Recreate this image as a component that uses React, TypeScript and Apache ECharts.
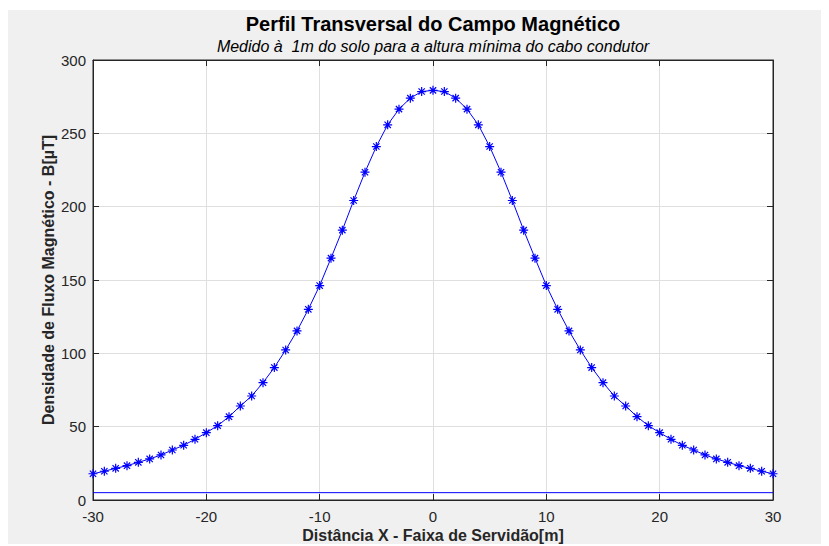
import React, { useEffect, useRef } from "react";
import * as echarts from "echarts";

const titleText = "Perfil Transversal do Campo Magnético";
const subtitleText = "Medido à  1m do solo para a altura mínima do cabo condutor";
const xAxisName = "Distância X - Faixa de Servidão[m]";
const yAxisName = "Densidade de Fluxo Magnético - B[µT]";

const distances = [
  -30, -29, -28, -27, -26, -25, -24, -23, -22, -21, -20, -19, -18, -17, -16, -15,
  -14, -13, -12, -11, -10, -9, -8, -7, -6, -5, -4, -3, -2, -1, 0, 1, 2, 3, 4, 5,
  6, 7, 8, 9, 10, 11, 12, 13, 14, 15, 16, 17, 18, 19, 20, 21, 22, 23, 24, 25, 26,
  27, 28, 29, 30,
];

const fluxValues = [
  17.9, 19.6, 21.6, 23.4, 25.7, 28.0, 30.7, 34.1, 37.3, 41.4, 45.9, 50.7, 56.8,
  64.1, 70.9, 80.0, 90.3, 102.3, 115.3, 130.0, 146.2, 164.9, 184.0, 204.2, 223.5,
  241.0, 255.8, 266.5, 274.0, 278.5, 279.3, 278.5, 274.0, 266.5, 255.8, 241.0,
  223.5, 204.2, 184.0, 164.9, 146.2, 130.0, 115.3, 102.3, 90.3, 80.0, 70.9, 64.1,
  56.8, 50.7, 45.9, 41.4, 37.3, 34.1, 30.7, 28.0, 25.7, 23.4, 21.6, 19.6, 17.9,
];

const limitLineX = [-30, 30];
const limitLineY = [5, 5];

const FONT = "'Liberation Sans', Arial, Helvetica, sans-serif";
const AXIS_COLOR = "#262626";
const BLUE = "#0000ff";

export default function App() {
  const ref = useRef<HTMLDivElement>(null);

  useEffect(() => {
    if (!ref.current) return;
    const chart = echarts.init(ref.current, undefined, { renderer: "svg" });
    const gridLeft = 85;
    const gridRight = 56;
    const plotCenterX = gridLeft + (821 - gridLeft - gridRight) / 2;

    const hiddenAxisCommon = {
      axisLabel: { show: false },
      axisTick: { show: true, inside: true, length: 6, lineStyle: { color: AXIS_COLOR } },
      splitLine: { show: false },
      axisLine: { show: true, onZero: false, lineStyle: { color: AXIS_COLOR, width: 1 } },
    };

    chart.setOption({
      animation: false,
      backgroundColor: "#f0f0f0",
      textStyle: { fontFamily: FONT },
      graphic: [
        {
          type: "text",
          silent: true,
          style: {
            text: titleText,
            x: plotCenterX,
            y: 14,
            textAlign: "center",
            textVerticalAlign: "middle",
            font: `bold 20px ${FONT}`,
            fill: "#000000",
          },
        },
        {
          type: "text",
          silent: true,
          style: {
            text: subtitleText,
            x: plotCenterX,
            y: 36,
            textAlign: "center",
            textVerticalAlign: "middle",
            font: `italic 16px ${FONT}`,
            fill: "#000000",
          },
        },
      ],
      grid: {
        left: gridLeft,
        right: gridRight,
        top: 50,
        bottom: 46,
        outerBoundsMode: "none",
        containLabel: false,
        show: true,
        backgroundColor: "#ffffff",
        borderColor: AXIS_COLOR,
        borderWidth: 1,
      },
      xAxis: [
        {
          type: "value",
          min: -30,
          max: 30,
          interval: 10,
          position: "bottom",
          name: xAxisName,
          nameLocation: "middle",
          nameGap: 27,
          nameMoveOverlap: false,
          nameTextStyle: { fontFamily: FONT, fontSize: 16, fontWeight: "bold", color: AXIS_COLOR },
          axisLine: { show: true, onZero: false, lineStyle: { color: AXIS_COLOR, width: 1 } },
          axisTick: { show: true, inside: true, length: 6, lineStyle: { color: AXIS_COLOR } },
          axisLabel: { fontFamily: FONT, fontSize: 15, color: AXIS_COLOR, margin: 9 },
          splitLine: { show: true, lineStyle: { color: "#dfdfdf", width: 1 } },
        },
        {
          type: "value",
          min: -30,
          max: 30,
          interval: 10,
          position: "top",
          ...hiddenAxisCommon,
        },
      ],
      yAxis: [
        {
          type: "value",
          min: 0,
          max: 300,
          interval: 50,
          position: "left",
          name: yAxisName,
          nameLocation: "middle",
          nameGap: 37,
          nameMoveOverlap: false,
          nameTextStyle: { fontFamily: FONT, fontSize: 16, fontWeight: "bold", color: AXIS_COLOR },
          axisLine: { show: true, onZero: false, lineStyle: { color: AXIS_COLOR, width: 1 } },
          axisTick: { show: true, inside: true, length: 6, lineStyle: { color: AXIS_COLOR } },
          axisLabel: { fontFamily: FONT, fontSize: 15, color: AXIS_COLOR, margin: 7 },
          splitLine: { show: true, lineStyle: { color: "#dfdfdf", width: 1 } },
        },
        {
          type: "value",
          min: 0,
          max: 300,
          interval: 50,
          position: "right",
          ...hiddenAxisCommon,
        },
      ],
      series: [
        {
          type: "line",
          xAxisIndex: 0,
          yAxisIndex: 0,
          data: distances.map((x, i) => [x, fluxValues[i]]),
          symbol: "path://M0,-5L0,5M-5,0L5,0M-3.5,-3.5L3.5,3.5M-3.5,3.5L3.5,-3.5",
          symbolSize: 9,
          showSymbol: true,
          lineStyle: { color: BLUE, width: 1 },
          itemStyle: { color: "none", borderColor: BLUE, borderWidth: 1.2 },
          silent: true,
          z: 3,
        },
        {
          type: "line",
          xAxisIndex: 0,
          yAxisIndex: 0,
          data: limitLineX.map((x, i) => [x, limitLineY[i]]),
          symbol: "none",
          lineStyle: { color: BLUE, width: 1 },
          silent: true,
          z: 2,
        },
      ],
    });

    return () => {
      chart.dispose();
    };
  }, []);

  return (
    <div
      ref={ref}
      style={{ width: 821, height: 536, position: "relative", top: 2 }}
    />
  );
}
